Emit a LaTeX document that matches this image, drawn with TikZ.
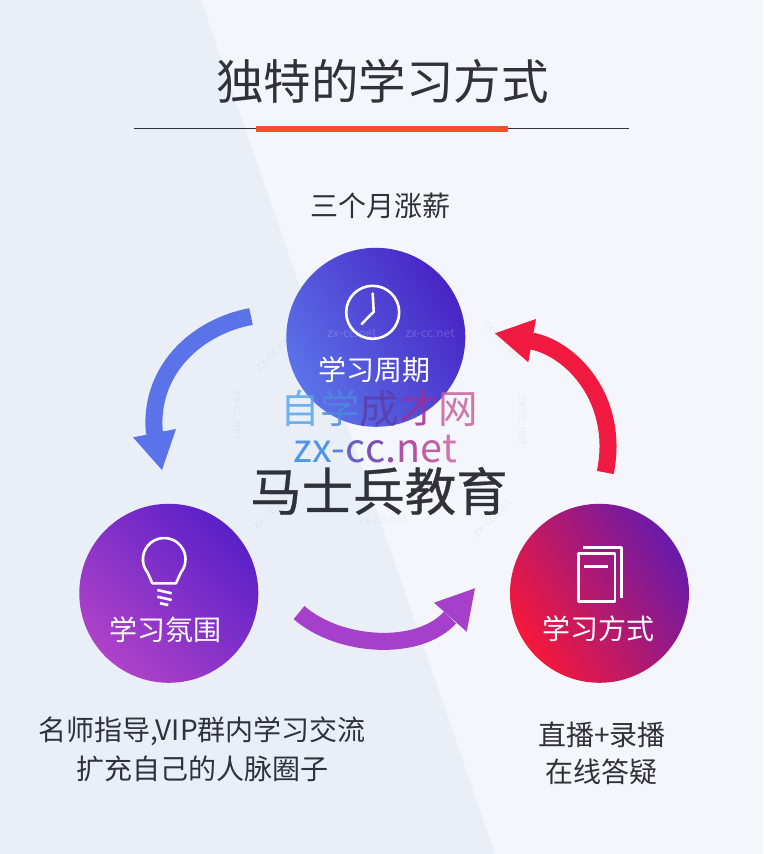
\documentclass[tikz,border=0pt]{standalone}
\usepackage{fontspec}
\setmainfont{Noto Sans CJK SC}
\newfontfamily\heavycjk[FakeBold=0.6]{Noto Sans CJK SC}
\usepackage{xcolor}
\usetikzlibrary{calc}

\definecolor{page right}{HTML}{F4F6FB}
\definecolor{page left}{HTML}{E9EEF7}
\definecolor{ink}{HTML}{2F3238}
\definecolor{bar orange}{HTML}{F4502A}
\definecolor{arrow blue}{HTML}{5B73E8}
\definecolor{arrow purple}{HTML}{A63FC9}
\definecolor{arrow red}{HTML}{F0193F}

\tikzset{
	stage/.style = {circle, minimum size = 179pt, inner sep = 0pt},
	stage label/.style = {text = white, font = \fontsize{28}{30}\selectfont},
	caption/.style = {text = ink, font = \fontsize{28}{30}\selectfont, align = center},
	icon/.style = {draw = white, line width = 2.6pt, line join = round},
	band/.style = {line width = 17pt},
	mark text/.style = {text = gray, opacity = 0.08, font = \fontsize{12}{14}\selectfont}
}

\newcommand{\tint}[2]{\textcolor[HTML]{#1}{#2}}

\begin{document}
\begin{tikzpicture}[x = 1pt, y = -1pt]
		\useasboundingbox (0,0) rectangle (763,854);
		
		\fill [page right] (0,0) rectangle (763,854);
		\fill [page left] (0,0) -- (201,0) -- (495,854) -- (0,854) -- cycle;
		
		\node [text = ink, font = \fontsize{47.5}{50}\selectfont] (title) at (382.5,81) {独特的学习方式};
		\coordinate (rule left) at (134,128.5);
		\coordinate (rule right) at (629,128.5);
		\draw [line width = 1pt, ink] (rule left) -- (rule right);
		\fill [bar orange] (256,126) rectangle (508,131.5);
		
		\node [caption] (top caption) at (380,206) {三个月涨薪};
		
		\node [stage, top color = arrow blue, bottom color = {rgb,255:red,72;green,36;blue,198}, shading angle = 122] (period) at (375.8,337.3) {};
		\node [stage, top color = {rgb,255:red,175;green,66;blue,200}, bottom color = {rgb,255:red,90;green,32;blue,200}, shading angle = 135] (mood) at (168.8,593.3) {};
		\node [stage, top color = {rgb,255:red,246;green,24;blue,58}, bottom color = {rgb,255:red,104;green,26;blue,170}, shading angle = 122] (method) at (599.5,593.3) {};
		
		\node [stage label] (period label) at (374,370) {学习周期};
		\node [stage label] (mood label) at (165.5,629.5) {学习氛围};
		\node [stage label] (method label) at (598,628.5) {学习方式};
		
		\draw [icon] (372.7,312.3) circle [radius = 26.5];
		\draw [icon, line cap = round] (372.7,293.5) -- (373.7,311.7) -- (361.7,324);
		
		\draw [icon] (152.3,583.3) -- (147.65,572.7) arc [start angle = 219, end angle = -39, x radius = 21.3, y radius = -21.3] -- (176,583.3) -- cycle;
		\draw [icon] (157.3,590) -- (171.7,593.3);
		\draw [icon] (157.3,596.7) -- (171.7,600);
		\draw [icon] (160,603.3) -- (168.3,605);
		
		\draw [icon] (578.5,553.5) rectangle (615,601.5);
		\draw [icon] (582.7,547.3) -- (621.7,547.3) -- (621.7,597.7);
		\draw [icon] (584,566.7) -- (608.3,566.7);
		
		\coordinate (blue tail) at (251,316.5);
		\coordinate (blue base) at (154.5,434);
		\draw [band, arrow blue] (blue tail) .. controls (195,327) and (148,372) .. (blue base);
		\fill [arrow blue] (133,437.3) -- (162,470) -- (176,429) -- cycle;
		
		\coordinate (purple tail) at (299,612.6);
		\coordinate (purple base) at (450,617.5);
		\draw [band, arrow purple] (purple tail) .. controls (340,648) and (419,652) .. (purple base);
		\fill [arrow purple] (434,602.7) -- (475,588.3) -- (466.7,631.7) -- cycle;
		
		\coordinate (red tail) at (605.3,472.5);
		\coordinate (red base) at (531.7,341);
		\draw [band, arrow red] (red tail) .. controls (620,400) and (572,349) .. (red base);
		\fill [arrow red] (536,319) -- (495,333.3) -- (528.3,362.3) -- cycle;
		
		\node [mark text, text = white, opacity = 0.18] (mark a) at (352,333) {zx-cc.net};
		\node [mark text, text = white, opacity = 0.18] (mark b) at (430,333) {zx-cc.net};
		\node [mark text, rotate = 45] (mark c) at (275,351) {zx-cc.net};
		\node [mark text, rotate = -45] (mark d) at (503,339) {zx-cc.net};
		\node [mark text, rotate = -90] (mark e) at (238,415) {zx-cc.net};
		\node [mark text, rotate = -90] (mark f) at (523,420) {zx-cc.net};
		\node [mark text] (mark g) at (383,520) {zx-cc.net};
		\node [mark text, rotate = 45] (mark h) at (492,518) {zx-cc.net};
		\node [mark text, rotate = 45] (mark i) at (272,510) {zx-cc.net};
		
		\node [opacity = 0.85, font = \fontsize{39.5}{40}\selectfont] (brand cn) at (379.5,408.5) {\tint{5AA5EA}{自}\tint{4F87DE}{学}\tint{5A3FA8}{成}\tint{9A2F96}{才}\tint{C9609E}{网}};
		\node [opacity = 0.9, font = \fontsize{39.5}{40}\selectfont] (brand en) at (375.5,449) {\tint{3F8FE8}{z}\tint{3F8BE8}{x}\tint{4A78D8}{-}\tint{5A4FC0}{c}\tint{6F40B0}{c}\tint{8A3AA4}{.}\tint{A8409C}{n}\tint{BC509E}{e}\tint{CC6AA8}{t}};
		
		\node [text = ink, font = \heavycjk\fontsize{51.5}{54}\selectfont] (school) at (379,491) {马士兵教育};
		
		\node [caption] (mood caption one) at (202,731) {名师指导,VIP群内学习交流};
		\node [caption] (mood caption two) at (202.5,768.5) {扩充自己的人脉圈子};
		\node [caption] (method caption one) at (602,735) {直播+录播};
		\node [caption] (method caption two) at (601.5,771.5) {在线答疑};
	\end{tikzpicture}
\end{document}
